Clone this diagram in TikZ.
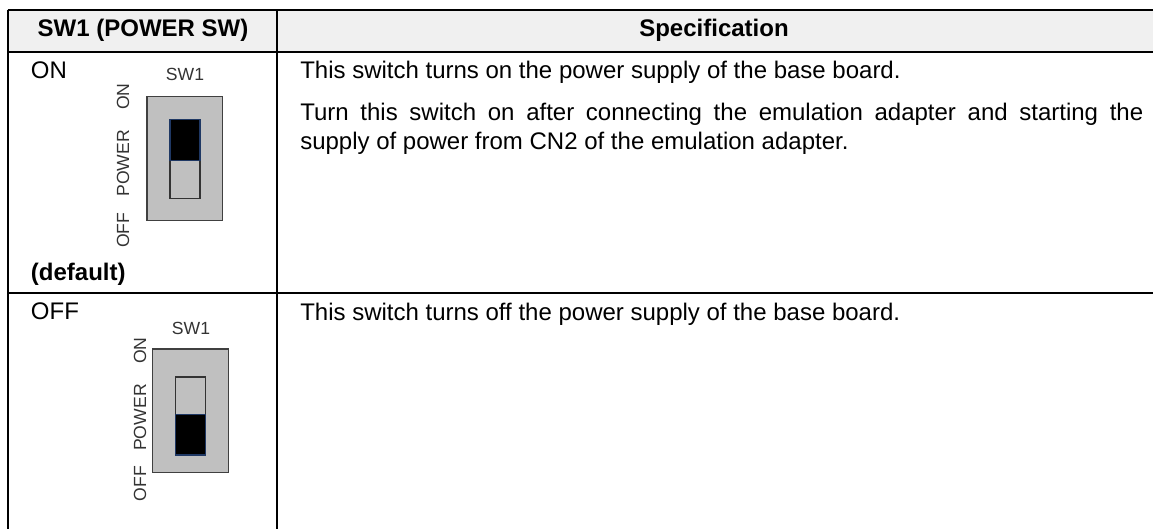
\documentclass[tikz,border=0pt]{standalone}
\usepackage{fontspec}
\setmainfont{Liberation Sans}
\definecolor{headgray}{HTML}{F0F0F0}
\definecolor{bodygray}{HTML}{C0C0C0}
\definecolor{slotblue}{HTML}{1F3864}
\tikzset{
  rule/.style={line width=1.5pt, black},
  label/.style={inner sep=0pt, anchor=base west, font=\fontsize{18}{22}\selectfont},
  boldlabel/.style={inner sep=0pt, font=\fontsize{18}{22}\selectfont\bfseries},
  small/.style={inner sep=0pt, font=\fontsize{13.2}{16}\selectfont, text=black!80},
  swbody/.style={draw=black!75, line width=0.9pt, fill=bodygray},
  swslot/.style={draw=black!80, line width=0.9pt, fill=bodygray},
  swknob/.style={draw=slotblue, line width=0.9pt, fill=black}
}
\begin{document}
\begin{tikzpicture}[x=0.75pt, y=-0.75pt]
  \useasboundingbox (0, 0) rectangle (1153, 529);
  % koordinate
  \coordinate (TL) at (7.7, 10);
  \coordinate (TM) at (277, 10);
  \coordinate (TR) at (1153, 10);
  \coordinate (HL) at (7.7, 51.7);
  \coordinate (HM) at (277, 51.7);
  \coordinate (HR) at (1153, 51.7);
  \coordinate (RL) at (7.7, 292.7);
  \coordinate (RR) at (1153, 292.7);
  \coordinate (BL) at (7.7, 529);
  \coordinate (BM) at (277, 529);
  % glava
  \fill [headgray] (TL) rectangle (HR);
  \draw [rule] (TL) -- (TR);
  \draw [rule] (HL) -- (HR);
  \draw [rule] (RL) -- (RR);
  \draw [rule] (TL) -- (BL);
  \draw [rule] (TM) -- (BM);
  \node [boldlabel, anchor=base] (headsw) at (143, 36.7) {SW1 (POWER SW)};
  \node [boldlabel, anchor=base] (headspec) at (714, 36.7) {Specification};
  % stikalo ON
  \node [label] (onlabel) at (30.7, 78.3) {ON};
  \node [boldlabel, anchor=base west] (deflabel) at (30.7, 280.7) {(default)};
  \draw [swbody] (147, 96.7) rectangle (222.3, 220.3);
  \draw [swslot] (170, 160.7) rectangle (200, 198.7);
  \draw [swknob] (170, 119.3) rectangle (200, 160.7);
  \node [small, anchor=base] (onsw) at (185, 80) {SW1};
  \node [small, rotate=90, anchor=base west] (onoff) at (129, 248) {OFF};
  \node [small, rotate=90, anchor=base west] (onpower) at (129, 197) {POWER};
  \node [small, rotate=90, anchor=base west] (onon) at (129, 110) {ON};
  % stikalo OFF
  \node [label] (offlabel) at (30.7, 319) {OFF};
  \draw [swbody] (152.7, 349) rectangle (228.3, 472.7);
  \draw [swslot] (175.7, 377) rectangle (205.7, 414.3);
  \draw [swknob] (175.7, 414.3) rectangle (205.7, 455);
  \node [small, anchor=base] (offsw) at (191, 334) {SW1};
  \node [small, rotate=90, anchor=base west] (offoff) at (146, 501.7) {OFF};
  \node [small, rotate=90, anchor=base west] (offpower) at (146, 451) {POWER};
  \node [small, rotate=90, anchor=base west] (offon) at (146, 364) {ON};
  % opis
  \node [label] (desca) at (300, 78.5) {This switch turns on the power supply of the base board.};
  \node [label, anchor=north west, text width=632.25pt, align=justify, font=\fontsize{18}{22}\selectfont] (descb) at (300, 102.5)
    {Turn this switch on after connecting the emulation adapter and starting the\linebreak supply of power from CN2 of the emulation adapter.};
  \node [label] (descc) at (300, 320) {This switch turns off the power supply of the base board.};
\end{tikzpicture}
\end{document}
